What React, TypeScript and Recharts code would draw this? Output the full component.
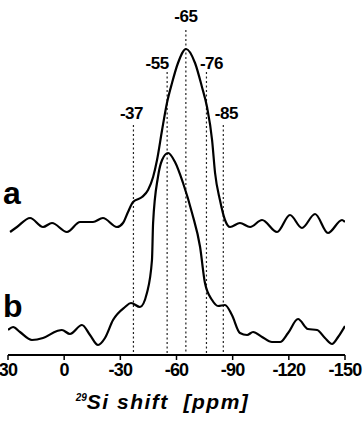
import { LineChart, Line, XAxis, YAxis, ReferenceLine, ReferenceDot } from "recharts";

// spectrum a (upper trace), chemical shift in ppm vs. intensity (arb. units, offset)
const shiftA = [28.9, 25.2, 18.2, 11.3, 6.5, -1.5, -8.5, -15.4, -20.7, -28.2, -31.4, -34.1, -36.8, -41.6, -44.8, -47.5, -49.6, -52.3, -54.9, -57.6, -60.8, -65.1, -69.9, -73.6, -76.3, -79.0, -80.6, -83.2, -85.9, -88.6, -93.9, -99.3, -105.7, -113.7, -120.6, -127.0, -134.0, -140.9, -148.4, -150];
const intensityA = [123, 128, 137, 128, 132, 123, 133, 133, 137, 128, 132, 143, 153, 158, 165, 178, 195, 225, 252, 272, 292, 306, 292, 268, 248, 215, 182, 155, 135, 128, 132, 128, 135, 123, 140, 127, 141, 122, 135, 133];

// spectrum b (lower trace)
const shiftB = [30, 27.3, 23.6, 17.2, 11.3, 3.8, 1.2, -3.1, -9.5, -13.8, -18.1, -21.8, -26.1, -32.5, -35.7, -40.5, -44.2, -46.9, -47.5, -50.1, -52.3, -55.5, -59.2, -63.5, -68.3, -72.6, -75.2, -79.0, -82.2, -85.9, -89.6, -93.9, -97.7, -100.9, -105.7, -111.0, -115.3, -119.6, -124.9, -130.2, -135.1, -139.3, -143.1, -146.3, -150];
const intensityB = [25, 28, 23, 15, 17, 24, 25, 21, 30, 20, 10, 17, 35, 48, 52, 48, 62, 95, 132, 178, 195, 202, 193, 172, 142, 108, 72, 55, 49, 50, 40, 22, 20, 23, 18, 13, 13, 22, 36, 26, 25, 17, 11, 18, 29];

// marked resonances
const peakShifts = [-37, -55, -65, -76, -85];
const peakLabels = ["-37", "-55", "-65", "-76", "-85"];
const peakLineTops = [230, 283, 325, 283, 230];

const xTicks = [30, 0, -30, -60, -90, -120, -150];
const traceNames = ["a", "b"];
const traceLabelY = [151, 38];

// label nudges relative to the top of each dotted line
const labelDx = [-2, -10, 0, 5, 3];
const labelDy = [-6, -3, -8, -3, -6];

const dataA = shiftA.map((x, i) => ({ x, v: intensityA[i] }));
const dataB = shiftB.map((x, i) => ({ x, v: intensityB[i] }));

const FONT = "'Liberation Sans', Arial, sans-serif";

function AxisTitle(props: any) {
  const { viewBox } = props;
  if (!viewBox) return null;
  const cx = viewBox.x + viewBox.width / 2 - 14;
  return (
    <text x={cx} y={viewBox.y + 54} textAnchor="middle" fontFamily={FONT} fontWeight="bold" fontStyle="italic" fill="#000">
      <tspan fontSize={10} dy={-8}>29</tspan>
      <tspan fontSize={21} dy={8} letterSpacing={1.5} style={{ whiteSpace: "pre" }}>Si shift  [ppm]</tspan>
    </text>
  );
}

export default function App() {
  return (
    <div style={{ position: "absolute", left: 0, top: 0, background: "#fff" }}>
      <LineChart width={364} height={427} margin={{ top: 5, right: 19, bottom: 12, left: 8 }}>
        <XAxis
          dataKey="x"
          type="number"
          domain={[-150, 30]}
          reversed
          ticks={xTicks}
          interval={0}
          axisLine={{ stroke: "#000", strokeWidth: 2 }}
          tickLine={{ stroke: "#000", strokeWidth: 1.5 }}
          tickSize={5}
          tickMargin={3}
          height={60}
          tick={{ fontSize: 18, fontWeight: "bold", fill: "#000", fontFamily: FONT, letterSpacing: -0.8 }}
          allowDataOverflow
          label={<AxisTitle />}
        />
        <YAxis hide domain={[0, 350]} type="number" allowDataOverflow />
        {peakShifts.map((p, i) => (
          <ReferenceLine
            key={p}
            segment={[{ x: p, y: peakLineTops[i] }, { x: p, y: 0 }]}
            stroke="#222"
            strokeWidth={1.2}
            strokeDasharray="2 2.5"
            ifOverflow="visible"
            label={(lp: any) => {
              const vb = lp.viewBox;
              if (!vb) return null;
              return (
                <text x={vb.x + labelDx[i]} y={vb.y + labelDy[i]} textAnchor="middle" fontFamily={FONT} fontWeight="bold" fontSize={17} letterSpacing={-0.5} fill="#000">
                  {peakLabels[i]}
                </text>
              );
            }}
          />
        ))}
        {traceNames.map((n, i) => (
          <ReferenceDot
            key={n}
            x={30}
            y={traceLabelY[i]}
            r={1}
            fill="none"
            stroke="none"
            ifOverflow="visible"
            label={(lp: any) => {
              const vb = lp.viewBox;
              if (!vb) return null;
              return (
                <text x={vb.x - 4} y={vb.y + vb.height / 2} textAnchor="start" fontFamily={FONT} fontWeight="bold" fontSize={32} fill="#000">
                  {n}
                </text>
              );
            }}
          />
        ))}
        <Line data={dataA} dataKey="v" type="monotone" stroke="#000" strokeWidth={2.2} dot={false} isAnimationActive={false} />
        <Line data={dataB} dataKey="v" type="monotone" stroke="#000" strokeWidth={2.2} dot={false} isAnimationActive={false} />
      </LineChart>
    </div>
  );
}
